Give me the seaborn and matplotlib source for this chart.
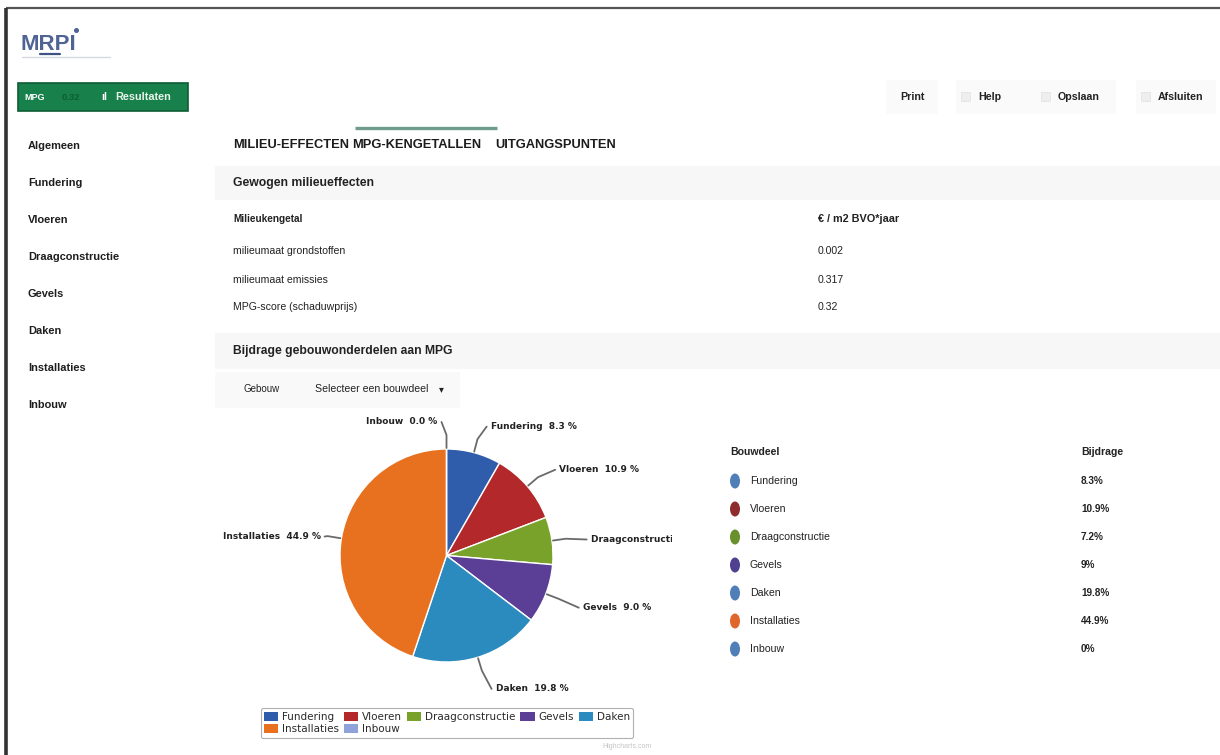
import numpy as np
import matplotlib
matplotlib.use("Agg")
import matplotlib.pyplot as plt
from matplotlib.patches import Rectangle, Ellipse, Patch
import seaborn as sns

# ---- data ----
bouwdelen = ["Fundering", "Vloeren", "Draagconstructie", "Gevels", "Daken", "Installaties", "Inbouw"]
bijdrage = [8.3, 10.9, 7.2, 9.0, 19.8, 44.9, 0.0]

indicatoren = ["milieumaat grondstoffen", "milieumaat emissies", "MPG-score (schaduwprijs)"]
indicator_waarden = [0.002, 0.317, 0.32]
mpg_score = 0.32

menu_items = ["Algemeen", "Fundering", "Vloeren", "Draagconstructie", "Gevels", "Daken",
              "Installaties", "Inbouw"]
tabbladen = ["MILIEU-EFFECTEN", "MPG-KENGETALLEN", "UITGANGSPUNTEN"]
knoppen = ["Print", "Help", "Opslaan", "Afsluiten"]

pie_colors = ["#2f5dac", "#b3282a", "#79a22a", "#5b3f96", "#2b8bbe", "#e8711f", "#8fa2da"]
dot_colors = ["#4f7fb6", "#8e2b2c", "#6a902e", "#4f4090", "#4f7fb6", "#e0672c", "#4f7fb6"]

# ---- figure & page canvas (pixel coordinates) ----
sns.set_theme(style="white")
plt.rcParams["font.family"] = ["Liberation Sans", "DejaVu Sans"]

W, H = 1220, 755
fig = plt.figure(figsize=(W / 100, H / 100), dpi=100)
fig.patch.set_facecolor("white")
ui = fig.add_axes([0, 0, 1, 1], zorder=0)
ui.set_xlim(0, W)
ui.set_ylim(H, 0)
ui.axis("off")


def txt(x, y, s, size=7.0, bold=False, color="#222222", ha="left", **kw):
    ui.text(x, y, s, fontsize=size, fontweight="bold" if bold else "normal",
            color=color, ha=ha, va="center", **kw)


# window border
ui.plot([6, W], [8, 8], color="#555555", lw=1.6, solid_capstyle="butt")
ui.plot([6, 6], [8, H], color="#333333", lw=2.6, solid_capstyle="butt")

# logo
txt(21, 44, "MRPI", size=16, bold=True, color="#4f6494")
ui.plot([76], [30], "o", ms=2.6, color="#4f6494")
ui.plot([40, 60], [54, 54], color="#3f5285", lw=1.6)
ui.plot([22, 110], [57, 57], color="#d6d9e0", lw=1.0)

# results button
ui.add_patch(Rectangle((18, 83), 170, 28, facecolor="#18804a", edgecolor="#0e5c34", lw=1.2))
txt(24, 97, "MPG", size=6.5, bold=True, color="white")
txt(62, 97, f"{mpg_score:.2f}", size=6.8, bold=True, color="#0d5e31")
txt(101, 97, "ıl", size=7.5, bold=True, color="white")
txt(115, 97, "Resultaten", size=7.8, bold=True, color="#e8f3ec")

# top-right buttons
knop_x = [900, 978, 1058, 1158]
for i, (k, x) in enumerate(zip(knoppen, knop_x)):
    ui.add_patch(Rectangle((x - 22 if i else x - 14, 80), 80 if i else 52, 34,
                           facecolor="#fafafa", edgecolor="none"))
    if i:
        ui.add_patch(Rectangle((x - 17, 92), 9, 9, facecolor="#eeeeee", edgecolor="#e4e4e4", lw=0.6))
    txt(x, 97, k, size=7.7, bold=True)

# left navigation
for i, item in enumerate(menu_items):
    txt(28, 146 + 37 * i, item, size=7.9, bold=True, color="#1e1e1e")

# tabs
tab_x = [233, 352, 495]
for t, x in zip(tabbladen, tab_x):
    txt(x, 145, t, size=9.3, bold=True, color="#1c1c1c")
ui.plot([355, 497], [128, 128], color="#6f9c8c", lw=2.4, solid_capstyle="butt")

# environmental section
ui.add_patch(Rectangle((215, 166), W - 215, 34, facecolor="#f7f7f7", edgecolor="none"))
txt(233, 183, "Gewogen milieueffecten", size=8.8, bold=True)
txt(233, 219, "Milieukengetal", size=7.2, bold=True)
txt(818, 219, "€ / m2 BVO*jaar", size=7.8, bold=True)
for i, (naam, w) in enumerate(zip(indicatoren, indicator_waarden)):
    y = [251, 280, 307][i]
    txt(233, y, naam, size=7.6)
    txt(818, y, f"{w:g}", size=7.6)

# contribution section
ui.add_patch(Rectangle((215, 333), W - 215, 36, facecolor="#f7f7f7", edgecolor="none"))
txt(233, 351, "Bijdrage gebouwonderdelen aan MPG", size=8.7, bold=True)
ui.add_patch(Rectangle((215, 372), 245, 36, facecolor="#f9f9f9", edgecolor="none"))
txt(243, 389, "Gebouw", size=7)
txt(315, 389, "Selecteer een bouwdeel", size=7.6)
ui.text(441, 389, "▾", fontsize=7, color="#222222", va="center", ha="center", family="DejaVu Sans")

# contribution table
txt(730, 452, "Bouwdeel", size=7.6, bold=True)
txt(1081, 452, "Bijdrage", size=7.6, bold=True)
for i, (naam, v, c) in enumerate(zip(bouwdelen, bijdrage, dot_colors)):
    y = 481 + 28 * i
    ui.add_patch(Ellipse((735, y), 10, 15, facecolor=c, edgecolor="none"))
    txt(750, y, naam, size=7.6)
    txt(1081, y, f"{v:g}%", size=7.2, bold=True)

# ---- pie chart ----
cx, cy, R = 446.5, 555.5, 106.5           # centre and radius in pixels
left_px, right_px, top_px, bot_px = 215, 672, 412, 700
pax = fig.add_axes([left_px / W, (H - bot_px) / H, (right_px - left_px) / W, (bot_px - top_px) / H],
                   zorder=1)
pax.patch.set_alpha(0)
wedges, _ = pax.pie(bijdrage, colors=pie_colors, startangle=90, counterclock=False, radius=1,
                    frame=True, wedgeprops=dict(edgecolor="white", linewidth=1.0))
pax.set_xlim((left_px - cx) / R, (right_px - cx) / R)
pax.set_ylim((cy - bot_px) / R, (cy - top_px) / R)
pax.set_aspect("auto")
pax.axis("off")

px = 1.0 / R
total = sum(bijdrage)
start = 0.0
for naam, v in zip(bouwdelen, bijdrage):
    mid = (start + v / 2) / total
    start += v
    th = np.deg2rad(90 - 360 * mid)
    ca, sa = np.cos(th), np.sin(th)
    on_left = mid > 0.5
    dx = 12 if on_left else 30
    ax_x = ca * (1 + dx * px)
    ax_y = sa * (1 + 30 * px) - 3 * px
    sgn = -1 if on_left else 1
    tx = ax_x + sgn * 9 * px
    edge = (ca * (1 + 1 * px), sa * (1 + 1 * px))
    bend = (ca * (1 + 14 * px), sa * (1 + 14 * px))
    pax.plot([edge[0], bend[0], tx - sgn * 4 * px], [edge[1], bend[1], ax_y],
             color="#6a6a6a", lw=1.3, clip_on=True, solid_joinstyle="round")
    pax.text(tx, ax_y, f"{naam}  {v:.1f} %", fontsize=6.5, fontweight="bold", color="#222222",
             family="DejaVu Sans", ha="right" if on_left else "left", va="center", clip_on=True)

# legend below the pie (column-major order gives two row-wise lines)
handles = [Patch(facecolor=c, edgecolor="none") for c in pie_colors]
order = [0, 5, 1, 6, 2, 3, 4]
leg = fig.legend([handles[i] for i in order], [bouwdelen[i] for i in order],
                 loc="center", bbox_to_anchor=(447 / W, 1 - 723 / H), ncol=5,
                 prop={"family": "DejaVu Sans", "size": 7.5},
                 handlelength=1.35, handleheight=0.85, handletextpad=0.35,
                 columnspacing=0.5, borderpad=0.35, labelspacing=0.2,
                 frameon=True, fancybox=True, framealpha=1)
leg.get_frame().set_edgecolor("#b0b0b0")
leg.get_frame().set_linewidth(0.8)
for t in leg.get_texts():
    t.set_color("#2a2a2a")

txt(627, 746, "Highcharts.com", size=5, color="#c4c4c4", ha="center")

fig.savefig("out.png", dpi=100)
